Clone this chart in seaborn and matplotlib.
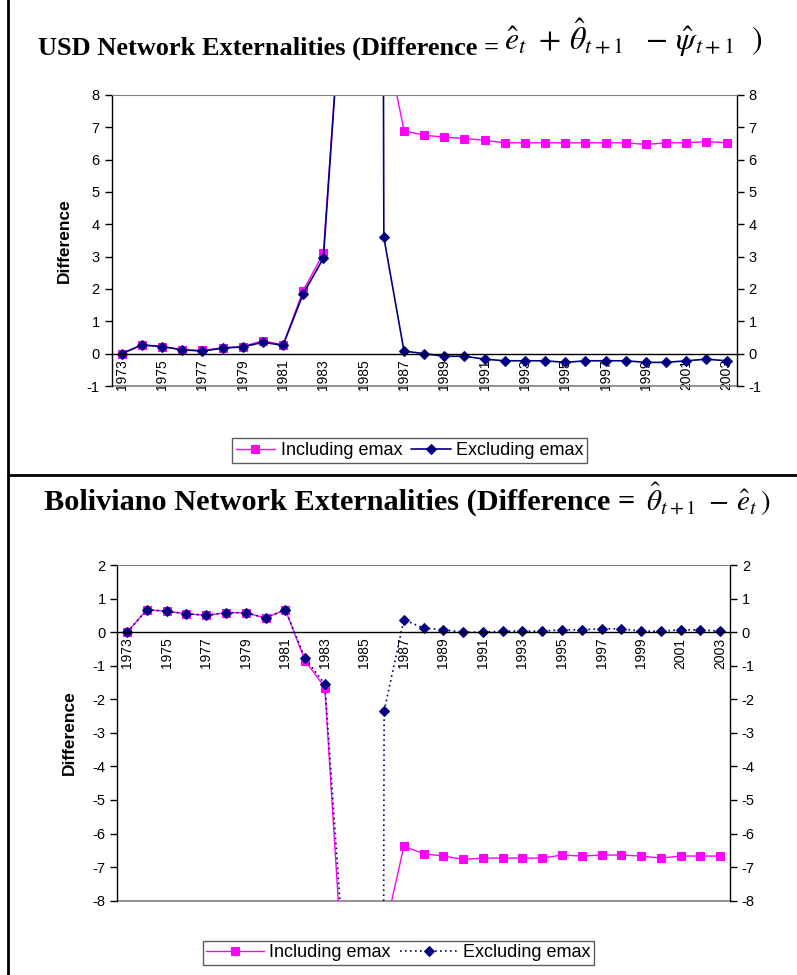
import numpy as np
import pandas as pd
import matplotlib
matplotlib.use("Agg")
import matplotlib.pyplot as plt
from matplotlib.lines import Line2D
import seaborn as sns

years = list(range(1973, 2004))

# USD panel
usd_incl = [0.0, 0.27, 0.22, 0.12, 0.10, 0.18, 0.22, 0.40, 0.27, 1.95, 3.10,
            12.0, 60.0, 10.0,
            6.90, 6.75, 6.70, 6.65, 6.60, 6.52, 6.52, 6.52, 6.52, 6.52, 6.52,
            6.52, 6.47, 6.52, 6.52, 6.56, 6.52]
usd_excl = [0.0, 0.27, 0.22, 0.12, 0.08, 0.17, 0.21, 0.35, 0.26, 1.85, 2.95,
            12.0, 250.0, 3.6,
            0.08, 0.0, -0.08, -0.08, -0.17, -0.22, -0.22, -0.22, -0.27, -0.22,
            -0.22, -0.22, -0.27, -0.27, -0.22, -0.17, -0.22]

# Boliviano panel
bob_incl = [0.0, 0.67, 0.62, 0.55, 0.50, 0.58, 0.58, 0.42, 0.67, -0.85, -1.65,
            -11.0, -60.0, -9.0,
            -6.38, -6.60, -6.67, -6.77, -6.73, -6.73, -6.73, -6.73, -6.64, -6.67,
            -6.64, -6.64, -6.67, -6.73, -6.67, -6.67, -6.67]
bob_excl = [0.0, 0.67, 0.62, 0.55, 0.50, 0.58, 0.58, 0.42, 0.67, -0.78, -1.55,
            -10.0, -250.0, -2.35,
            0.37, 0.12, 0.07, 0.0, 0.0, 0.03, 0.03, 0.03, 0.07, 0.07, 0.10,
            0.10, 0.03, 0.03, 0.07, 0.07, 0.03]

usd_title = "USD Network Externalities (Difference ="
usd_math = r"$\hat{e}_t\ +\,\hat{\theta}_{t+1}\ \ -\,\hat{\psi}_{t+1}\ \ \mathrm{)}$"
bob_title = "Boliviano Network Externalities (Difference ="
bob_math = r"$\hat{\theta}_{t+1}\ -\,\hat{e}_t\,\mathrm{)}$"

sns.set_style("white")
plt.rcParams["font.family"] = ["Liberation Sans", "DejaVu Sans"]
plt.rcParams["mathtext.fontset"] = "stix"
plt.rcParams["text.color"] = "black"
plt.rcParams["axes.labelcolor"] = "black"
plt.rcParams["xtick.color"] = "black"
plt.rcParams["ytick.color"] = "black"

MAG = "#FF00FF"
NAVY = "#000080"


def draw_panel(ax, incl, excl, ylim, yticks, excl_style, label_x):
    df = pd.DataFrame({"year": years, "incl": incl, "excl": excl})
    sns.lineplot(data=df, x="year", y="incl", ax=ax, color=MAG, marker="s",
                 markersize=6, markeredgecolor=MAG, linewidth=1.0, label="Including emax")
    sns.lineplot(data=df, x="year", y="excl", ax=ax, color=NAVY, marker="D",
                 markersize=5.5, markeredgecolor=NAVY, linewidth=1.2,
                 linestyle=excl_style, label="Excluding emax")
    ax.get_legend().remove()
    ax.set_xlim(years[0] - 0.5, years[-1] + 0.5)
    ax.set_ylim(*ylim)
    ax.set_yticks(yticks)
    ax.set_yticklabels([str(t) for t in yticks])
    ax.set_xticks(years[::2])
    ax.set_xticklabels([str(y) for y in years[::2]])
    ax.set_xticks(np.arange(years[0] + 0.5, years[-1]), minor=True)
    ax.tick_params(axis="x", which="major", length=0, pad=4, labelsize=10,
                   labelrotation=90)
    ax.tick_params(axis="x", which="minor", direction="inout", length=10,
                   width=1, color="black")
    ax.tick_params(axis="y", which="major", left=True, right=True,
                   labelleft=True, labelright=True, direction="out",
                   length=5, width=1, labelsize=10.5, color="black")
    ax.spines["bottom"].set_position(("data", 0))
    ax.spines["bottom"].set_color("black")
    ax.spines["left"].set_color("black")
    ax.spines["right"].set_color("black")
    ax.spines["top"].set_color("#808080")
    for s in ["left", "right", "bottom"]:
        ax.spines[s].set_linewidth(1)
    ax.axhline(ylim[0], color="#808080", lw=1.2, clip_on=False, zorder=1)
    ax.set_xlabel("")
    ax.set_ylabel("Difference", fontsize=12.5, fontweight="bold")
    ax.yaxis.set_label_coords(label_x, 0.5)


fig = plt.figure(figsize=(7.97, 9.75), dpi=100)

ax1 = fig.add_axes([0.1401, 0.6041, 0.7842, 0.2985])
draw_panel(ax1, usd_incl, usd_excl, (-1, 8), list(range(-1, 9)), "-", -0.064)

ax2 = fig.add_axes([0.1472, 0.0762, 0.7687, 0.3443])
draw_panel(ax2, bob_incl, bob_excl, (-8, 2), list(range(-8, 3)), (0, (1, 2)), -0.066)

# titles: text part right-aligned, formula placed after it
fig.text(0.626, 0.9436, usd_title, ha="right", va="baseline", fontsize=19,
         fontweight="bold", family="Liberation Serif")
fig.text(0.632, 0.9487, usd_math, ha="left", va="baseline", fontsize=23)
fig.text(0.797, 0.477, bob_title, ha="right", va="baseline", fontsize=21.8,
         fontweight="bold", family="Liberation Serif")
fig.text(0.81, 0.477, bob_math, ha="left", va="baseline", fontsize=21)

legend_spec = [(ax1, (0.514, 0.538), 2.2), (ax2, (0.5, 0.0226), 3.2)]
for ax, loc, hl in legend_spec:
    handles, labels = ax.get_legend_handles_labels()
    leg = fig.legend(handles, labels, loc="center", bbox_to_anchor=loc, ncol=2,
                     frameon=True, fancybox=False, fontsize=13, handlelength=hl,
                     columnspacing=0.5, handletextpad=0.3, borderpad=0.2,
                     borderaxespad=0)
    leg.get_frame().set_edgecolor("#333333")
    leg.get_frame().set_linewidth(1.0)

# table-like frame lines
fig.add_artist(Line2D([0.01, 0.01], [0, 1], color="black", lw=2, transform=fig.transFigure))
fig.add_artist(Line2D([0.01, 1], [0.5128, 0.5128], color="black", lw=2, transform=fig.transFigure))

fig.savefig("out.png", dpi=100)
